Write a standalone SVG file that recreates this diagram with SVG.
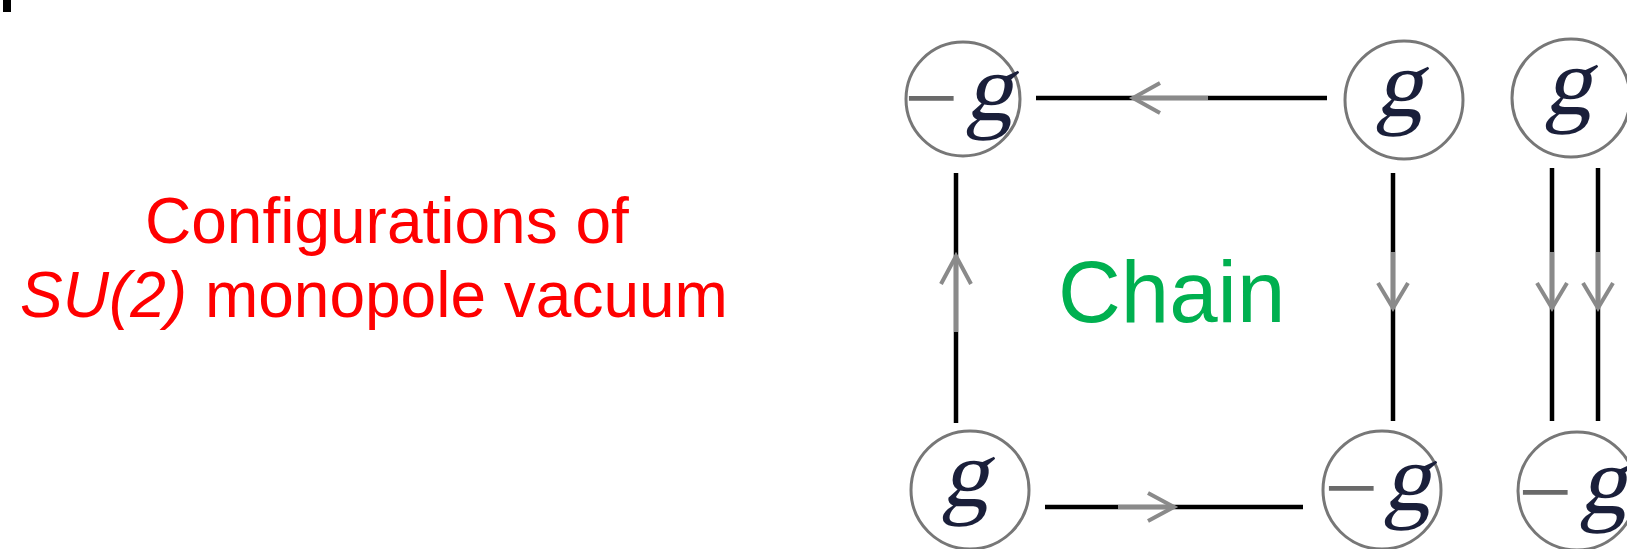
<svg xmlns="http://www.w3.org/2000/svg" width="1627" height="549" viewBox="0 0 1627 549">
  <style>
    .ring { fill: #fff; stroke: #777; stroke-width: 3; }
    .sym { font-family: "Liberation Serif", "Times New Roman", serif; font-size: 96px; fill: #1a1f3a; }
    .minus { font-family: "Liberation Serif", "Times New Roman", serif; font-size: 96px; fill: #6a6a6a; }
    .wire { stroke: #000; stroke-width: 4.5; fill: none; }
    .flow { stroke: #8a8a8a; stroke-width: 4; fill: none; stroke-linejoin: miter; }
    .caption { font-family: "Liberation Sans", Arial, sans-serif; font-size: 64px; fill: #ff0000; }
    .label { font-family: "Liberation Sans", Arial, sans-serif; font-size: 87px; fill: #00b050; }
  </style>

  <!-- corner mark -->
  <rect x="3" y="0" width="8" height="12" fill="#000"/>

  <!-- caption -->
  <g id="caption">
    <text class="caption" x="145" y="243">Configurations of</text>
    <text class="caption" x="20" y="317"><tspan font-style="italic">SU(2)</tspan> monopole vacuum</text>
  </g>

  <g id="chain-label">
    <text class="label" x="1058" y="322">Chain</text>
  </g>

  <!-- connectors -->
  <g id="connectors">
    <line class="wire" x1="1036" y1="98" x2="1327" y2="98"/>
    <line class="wire" x1="1045" y1="507" x2="1303" y2="507"/>
    <line class="wire" x1="956" y1="173" x2="956" y2="423"/>
    <line class="wire" x1="1393" y1="173" x2="1393" y2="421"/>
    <line class="wire" x1="1552" y1="168" x2="1552" y2="421"/>
    <line class="wire" x1="1598" y1="168" x2="1598" y2="421"/>

    <!-- flow arrows drawn over the wires -->
    <path class="flow" d="M1208 98 H1133 M1160 83 L1133 98 L1160 113"/>
    <path class="flow" d="M1118 507 H1174 M1148 493 L1174 507 L1148 521"/>
    <path class="flow" d="M956 332 V256 M941 284 L956 256 L971 284"/>
    <path class="flow" d="M1393 252 V308 M1378 283 L1393 308 L1408 283"/>
    <path class="flow" d="M1552 252 V308 M1537 283 L1552 308 L1567 283"/>
    <path class="flow" d="M1598 252 V308 M1583 283 L1598 308 L1613 283"/>
  </g>

  <!-- charge nodes: slanted two-storey g -->
  <g id="node-top-left">
    <circle class="ring" cx="963" cy="99" r="57"/>
    <text class="minus" x="904" y="130">−</text>
    <text class="sym" transform="translate(965 120) skewX(-12)">g</text>
  </g>
  <g id="node-top-mid">
    <circle class="ring" cx="1404" cy="100" r="59"/>
    <text class="sym" transform="translate(1375 116) skewX(-12)">g</text>
  </g>
  <g id="node-top-right">
    <circle class="ring" cx="1571" cy="98" r="59"/>
    <text class="sym" transform="translate(1544 114) skewX(-12)">g</text>
  </g>
  <g id="node-bottom-left">
    <circle class="ring" cx="970" cy="490" r="59"/>
    <text class="sym" transform="translate(941 506) skewX(-12)">g</text>
  </g>
  <g id="node-bottom-mid">
    <circle class="ring" cx="1382" cy="490" r="59"/>
    <text class="minus" x="1324" y="520">−</text>
    <text class="sym" transform="translate(1383 510) skewX(-12)">g</text>
  </g>
  <g id="node-bottom-right">
    <circle class="ring" cx="1577" cy="491" r="59"/>
    <text class="minus" x="1518" y="524">−</text>
    <text class="sym" transform="translate(1579 513) skewX(-12)">g</text>
  </g>
</svg>
